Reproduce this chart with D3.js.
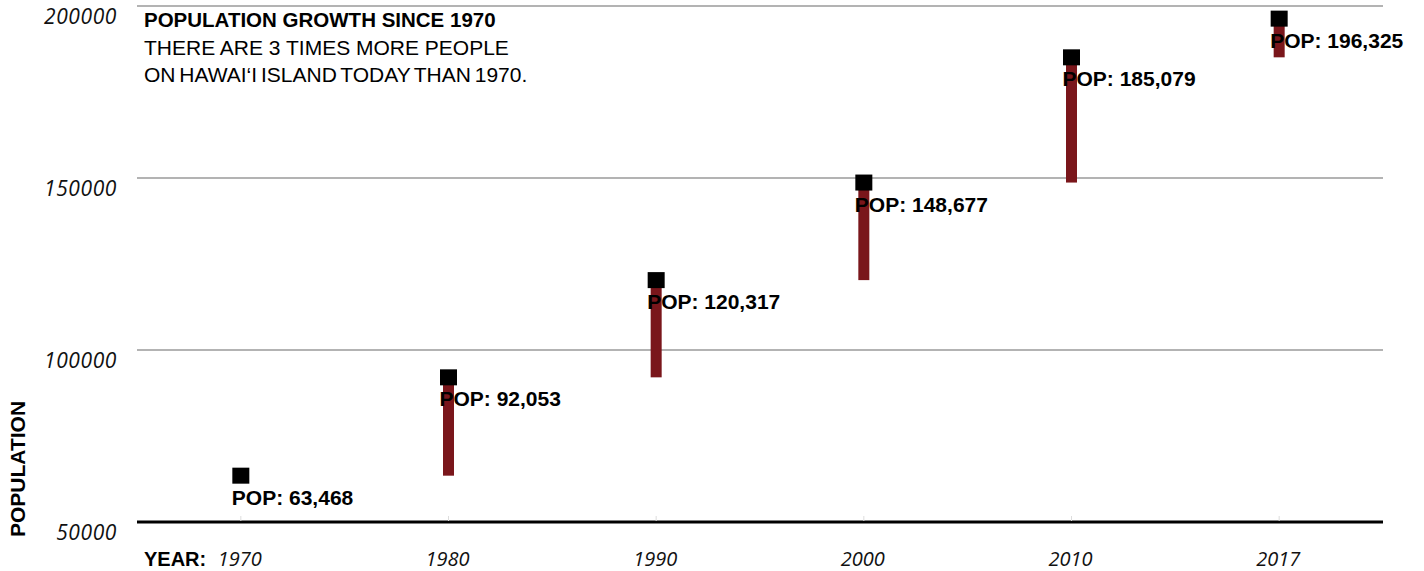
<!DOCTYPE html>
<html>
<head>
<meta charset="utf-8">
<script src="https://cdnjs.cloudflare.com/ajax/libs/d3/7.8.5/d3.min.js"></script>
<style>
    body { margin: 0; background: #fff; }
    #chart { width: 1424px; height: 571px; }
    .grid { stroke: #b3b3b3; stroke-width: 2; }
    .tick-label { font-family: "Open Sans", sans-serif; font-style: italic; font-size: 21px; fill: #111; }
    .bold { font-family: "Liberation Sans", Arial, sans-serif; font-weight: bold; fill: #000; }
</style>
</head>
<body>
<div id="chart"></div>
<script>
var years = ['1970', '1980', '1990', '2000', '2010', '2017'];
var population = [63468, 92053, 120317, 148677, 185079, 196325];
var yTicks = [50000, 100000, 150000, 200000];
var titleLines = ['POPULATION GROWTH SINCE 1970', 'THERE ARE 3 TIMES MORE PEOPLE', 'ON HAWAI\u2018I ISLAND TODAY THAN 1970.'];

window.addEventListener('load', function() {
    var width = 1424,
        height = 571,
        left = 137,
        right = 1383,
        top = 6,
        bottom = 522;

    var svg = d3.select('#chart').append('svg')
        .attr('width', width)
        .attr('height', height);

    var x = d3.scalePoint().domain(years).range([left, right]).padding(0.5),
        y = d3.scaleLinear().domain([50000, 200000]).range([bottom, top]);

    // gridlines, baseline drawn black
    svg.selectAll('.grid').data(yTicks.filter(function(d) { return d > 50000; }))
        .enter().append('line')
        .attr('class', 'grid')
        .attr('x1', left).attr('x2', right)
        .attr('y1', function(d) { return y(d); })
        .attr('y2', function(d) { return y(d); });

    svg.append('line')
        .attr('x1', left).attr('x2', right)
        .attr('y1', y(50000)).attr('y2', y(50000))
        .style('stroke', '#000').style('stroke-width', 3);

    svg.selectAll('.xtick').data(years)
        .enter().append('line')
        .attr('x1', function(d) { return x(d); })
        .attr('x2', function(d) { return x(d); })
        .attr('y1', y(50000) - 6).attr('y2', y(50000) - 1)
        .style('stroke', '#ddd').style('stroke-width', 1);

    // y tick labels
    svg.selectAll('.tick-label.y').data(yTicks)
        .enter().append('text')
        .attr('class', 'tick-label')
        .attr('text-anchor', 'end')
        .style('letter-spacing', '0.6px')
        .attr('x', 117)
        .attr('y', function(d) { return y(d) + 18; })
        .text(function(d) { return d; });

    // x labels
    svg.append('text').attr('class', 'bold')
        .attr('x', 144).attr('y', 566)
        .style('font-size', '20px')
        .text('YEAR:');

    svg.selectAll('.tick-label.x').data(years)
        .enter().append('text')
        .attr('class', 'tick-label')
        .attr('text-anchor', 'middle')
        .style('font-size', '20px')
        .attr('x', function(d) { return x(d) - 1; })
        .attr('y', 566)
        .text(function(d) { return d; });

    svg.append('text').attr('class', 'bold')
        .attr('transform', 'translate(25,537) rotate(-90)')
        .style('font-size', '21px')
        .text('POPULATION');

    // growth bars from previous value
    var segs = population.slice(1).map(function(v, i) {
        return {year: years[i + 1], from: population[i], to: v};
    });
    svg.selectAll('.bar').data(segs)
        .enter().append('rect')
        .style('fill', '#7a161b')
        .attr('x', function(d) { return x(d.year) - 5.5; })
        .attr('width', 11)
        .attr('y', function(d) { return y(d.to); })
        .attr('height', function(d) { return y(d.from) - y(d.to); });

    svg.selectAll('.dot').data(population)
        .enter().append('rect')
        .style('fill', '#000')
        .attr('x', function(d, i) { return x(years[i]) - 8.5; })
        .attr('y', function(d) { return y(d) - 8; })
        .attr('width', 17)
        .attr('height', 16);

    svg.selectAll('.pop').data(population)
        .enter().append('text')
        .attr('class', 'bold')
        .style('font-size', '21px')
        .attr('x', function(d, i) { return x(years[i]) - 9; })
        .attr('y', function(d) { return y(d) + 29; })
        .text(function(d) { return 'POP: ' + d3.format(',')(d); });

    // title block
    svg.selectAll('.title').data(titleLines)
        .enter().append('text')
        .attr('x', 144)
        .attr('y', function(d, i) { return 27 + i * 27.5; })
        .style('font-family', '"Liberation Sans", Arial, sans-serif')
        .style('font-size', function(d, i) { return i === 0 ? '20.5px' : '21px'; })
        .style('font-weight', function(d, i) { return i === 0 ? 'bold' : 'normal'; })
        .style('word-spacing', function(d, i) { return i === 2 ? '-2px' : '0px'; })
        .style('fill', '#000')
        .text(function(d) { return d; });
});
</script>
</body>
</html>
